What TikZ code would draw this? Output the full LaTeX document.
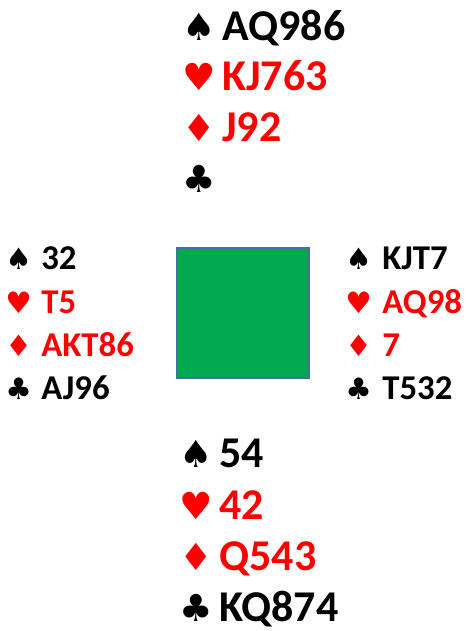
\documentclass[tikz,border=0pt]{standalone}
\usepackage{fontspec}
\setmainfont{Carlito}
\newfontfamily\suitfont{DejaVu Sans}
\usepackage{xcolor}
\usepackage{graphicx}
\usetikzlibrary{positioning}

\definecolor{feltgreen}{HTML}{00A850}
\definecolor{feltedge}{HTML}{41719C}
\definecolor{cardred}{HTML}{FF0000}

\newcommand{\Sp}{{\suitfont\hspace*{-0.04cm}\scalebox{0.85}{♠}}}
\newcommand{\Hs}{{\suitfont\hspace*{-0.04cm}\scalebox{0.85}{♥}}}
\newcommand{\Ds}{{\suitfont\hspace*{-0.04cm}\scalebox{0.85}{♦}}}
\newcommand{\Cs}{{\suitfont\hspace*{-0.04cm}\scalebox{0.85}{♣}}}

\begin{document}
\begin{tikzpicture}[
        x=0.02cm, y=0.02cm,
        bighand/.style={anchor=base west, inner sep=0pt, font=\bfseries\fontsize{25}{25}\selectfont},
        smallhand/.style={anchor=base west, inner sep=0pt, font=\bfseries\fontsize{19.8}{19.8}\selectfont},
        redsuit/.style={text=cardred},
        felt/.style={rectangle, draw=feltedge, line width=0.6pt, fill=feltgreen, minimum width=2.64cm, minimum height=2.6cm, inner sep=0pt}
    ]
        \useasboundingbox (0,0) rectangle (469,-631);

        % North
        \node[bighand]          (ns) at (184,-41)  {\makebox[0.76cm][l]{\Sp}AQ986};
        \node[bighand, redsuit] (nh) at (184,-91)  {\makebox[0.76cm][l]{\Hs}KJ763};
        \node[bighand, redsuit] (nd) at (184,-142) {\makebox[0.76cm][l]{\Ds}J92};
        \node[bighand]          (nc) at (184,-193) {\makebox[0.76cm][l]{\Cs}};

        % West
        \node[smallhand]          (ws) at (7,-269) {\makebox[0.68cm][l]{\Sp}32};
        \node[smallhand, redsuit] (wh) at (7,-313) {\makebox[0.68cm][l]{\Hs}T5};
        \node[smallhand, redsuit] (wd) at (7,-356) {\makebox[0.68cm][l]{\Ds}AKT86};
        \node[smallhand]          (wc) at (7,-399) {\makebox[0.68cm][l]{\Cs}AJ96};

        % table
        \node[felt] (table) at (243,-313) {};

        % East
        \node[smallhand]          (es) at (347,-269) {\makebox[0.70cm][l]{\Sp}KJT7};
        \node[smallhand, redsuit] (eh) at (347,-313) {\makebox[0.70cm][l]{\Hs}AQ98};
        \node[smallhand, redsuit] (ed) at (347,-356) {\makebox[0.70cm][l]{\Ds}7};
        \node[smallhand]          (ec) at (347,-399) {\makebox[0.70cm][l]{\Cs}T532};

        % South
        \node[bighand]          (ss) at (181,-467) {\makebox[0.76cm][l]{\Sp}54};
        \node[bighand, redsuit] (sh) at (181,-519) {\makebox[0.76cm][l]{\Hs}42};
        \node[bighand, redsuit] (sd) at (181,-570) {\makebox[0.76cm][l]{\Ds}Q543};
        \node[bighand]          (sc) at (181,-621) {\makebox[0.76cm][l]{\Cs}KQ874};
    \end{tikzpicture}
\end{document}
